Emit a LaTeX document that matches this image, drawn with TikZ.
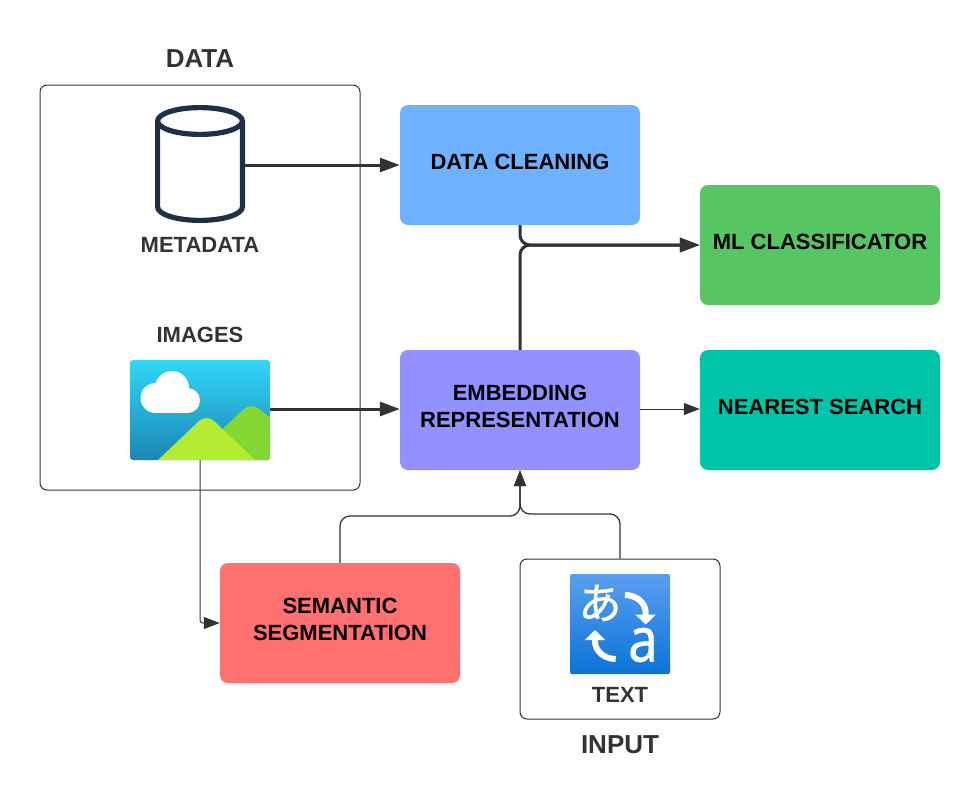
\documentclass[tikz,border=0pt]{standalone}
\usepackage{fontspec}
\setmainfont{Liberation Sans}
\newfontfamily\cjkfont[FakeBold=1.2]{Noto Sans CJK JP}
\newfontfamily\latinfont[FakeBold=0.8]{Noto Sans}
\usetikzlibrary{arrows.meta}

\definecolor{inkgrey}{HTML}{333333}
\definecolor{cleanblue}{HTML}{6DB1FF}
\definecolor{mlgreen}{HTML}{56C662}
\definecolor{embedviolet}{HTML}{9391FF}
\definecolor{searchteal}{HTML}{00C4A8}
\definecolor{segred}{HTML}{FF7070}
\definecolor{navy}{HTML}{1F3044}
\definecolor{skytop}{HTML}{33D6F9}
\definecolor{skybottom}{HTML}{1A87B3}
\definecolor{hillback}{HTML}{84D633}
\definecolor{hillfront}{HTML}{B4EC33}
\definecolor{icontop}{HTML}{5A9FF0}
\definecolor{iconbottom}{HTML}{0A74D6}

\tikzset{
  stagebox/.style={rectangle, rounded corners=8pt, minimum width=240pt, minimum height=120pt, align=center,
    text depth=7pt, font=\fontsize{22}{27}\selectfont\bfseries, text=black},
  framebox/.style={rectangle, rounded corners=7pt, draw=inkgrey, line width=1pt},
  caption/.style={font=\fontsize{22}{27}\selectfont\bfseries, text=inkgrey},
  title/.style={font=\fontsize{26}{30}\selectfont\bfseries, text=inkgrey},
  heavy/.style={line width=3pt, color=inkgrey, -{Triangle[length=20pt, width=14pt]}},
  light/.style={line width=1.3pt, color=inkgrey, -{Triangle[length=16pt, width=12pt]}},
  swaparrow/.style={line width=6pt, color=white, -{Triangle[length=10pt, width=20pt]}},
  iconline/.style={color=navy, line width=5.2pt},
}

\begin{document}
\begin{tikzpicture}
[every node/.style={inner sep=0pt}]
\useasboundingbox (0pt, 0pt) rectangle (980pt, -811pt);

\node (databox) [framebox, minimum width=320pt, minimum height=405pt] at (200pt, -287.5pt) {};
\node (inputbox) [framebox, minimum width=200pt, minimum height=160pt] at (620pt, -639pt) {};

\node (datatitle) [title] at (200pt, -59pt) {DATA};
\node (inputtitle) [title] at (620pt, -745pt) {INPUT};
\node (metadatalabel) [caption] at (200pt, -245pt) {METADATA};
\node (imageslabel) [caption] at (200pt, -335pt) {IMAGES};
\node (textlabel) [caption] at (620pt, -695pt) {TEXT};

\node (cleaning) [stagebox, fill=cleanblue] at (520pt, -165pt) {DATA CLEANING};
\node (classifier) [stagebox, fill=mlgreen] at (820pt, -245pt) {ML CLASSIFICATOR};
\node (embedding) [stagebox, fill=embedviolet] at (520pt, -410pt) {EMBEDDING\\REPRESENTATION};
\node (search) [stagebox, fill=searchteal] at (820pt, -410pt) {NEAREST SEARCH};
\node (segmentation) [stagebox, fill=segred] at (340pt, -623pt) {SEMANTIC\\SEGMENTATION};

% metadata icon
\node (metadata) [rectangle, minimum width=90pt, minimum height=116pt] at (200pt, -165pt) {};
\draw [iconline] (200pt, -121pt) ellipse (42.4pt and 13.4pt);
\draw [iconline] (157.6pt, -121pt) -- (157.6pt, -207pt)
  arc (180:360:42.4pt and 13.4pt) -- (242.4pt, -121pt);

% images icon
\node (images) [rectangle, rounded corners=3pt, minimum width=140pt, minimum height=100pt,
  top color=skytop, bottom color=skybottom] at (200pt, -410pt) {};
\fill [color=hillback] (215pt, -436pt) -- (244pt, -409pt) to [out=42, in=138] (259pt, -409pt)
  -- (270pt, -417pt) -- (270pt, -458pt) arc (0:-90:2pt) -- (240pt, -460pt) -- cycle;
\fill [color=hillfront] (158pt, -460pt) -- (199pt, -421pt) to [out=42, in=138] (214pt, -421pt)
  -- (255pt, -460pt) -- cycle;
\fill [color=white] (155.5pt, -398pt) circle (15pt);
\fill [color=white] (172pt, -388pt) circle (17pt);
\fill [color=white] (187.5pt, -400.5pt) circle (12.5pt);
\fill [color=white] (155.5pt, -413pt) rectangle (187.5pt, -390pt);

% text icon
\node (texticon) [rectangle, rounded corners=2pt, minimum width=100pt, minimum height=100pt,
  top color=icontop, bottom color=iconbottom] at (620pt, -624pt) {};
\node (kana) [text=white, font=\cjkfont\fontsize{43}{43}\selectfont] at (600pt, -603pt) {あ};
\node (latin) [text=white, xscale=0.85, transform shape, font=\latinfont\fontsize{62}{62}\selectfont] at (643pt, -645pt) {a};
\coordinate (swapastart) at (625pt, -595pt);
\coordinate (swapamid) at (645.7pt, -613pt);
\coordinate (swapaend) at (645.7pt, -624.5pt);
\coordinate (swapbstart) at (615.7pt, -659pt);
\coordinate (swapbmid) at (595pt, -641pt);
\coordinate (swapbend) at (595pt, -630pt);
\draw [swaparrow] (swapastart) to [out=0, in=90] (swapamid) -- (swapaend);
\draw [swaparrow] (swapbstart) to [out=180, in=270] (swapbmid) -- (swapbend);

% connectors
\coordinate (mergeleft) at (520pt, -516pt);
\coordinate (mergeright) at (520pt, -514pt);
\draw [heavy] (metadata.east) -- (cleaning.west);
\draw [heavy] ([yshift=1pt]images.east) -- ([yshift=1pt]embedding.west);
\draw [heavy, rounded corners=10pt] (cleaning.south) |- (classifier.west);
\draw [heavy, rounded corners=10pt] (embedding.north) |- (classifier.west);
\draw [light, line width=1pt] ([yshift=1pt]embedding.east) -- ([yshift=1pt]search.west);
\draw [light, rounded corners=3pt, line width=1pt] (images.south) |- (segmentation.west);
\draw [light, rounded corners=10pt] (segmentation.north) |- (mergeleft) -- (embedding.south);
\draw [light, rounded corners=10pt] (inputbox.north) |- (mergeright) -- (embedding.south);
\end{tikzpicture}
\end{document}
